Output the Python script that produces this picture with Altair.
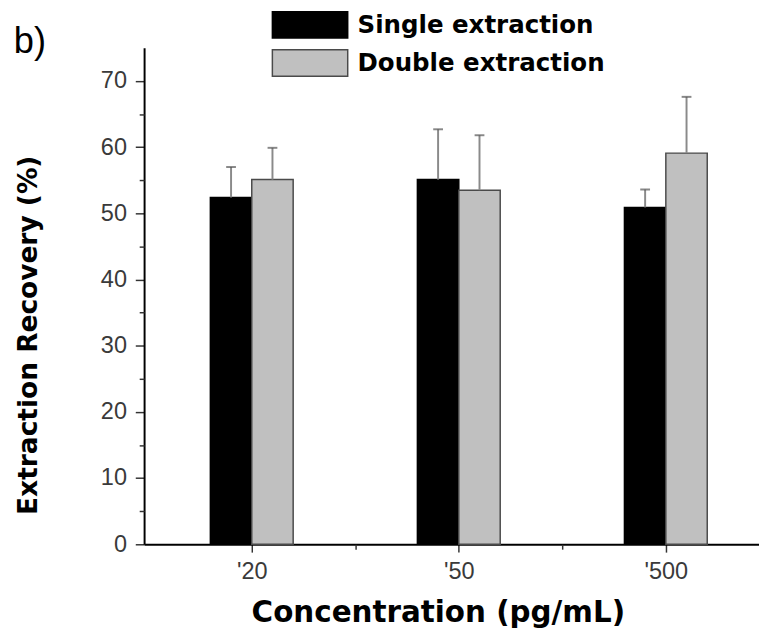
import json
import altair as alt
import pandas as pd

# ---- data ----
concentrations = ["'20", "'50", "'500"]
series_names = ["Single extraction", "Double extraction"]
single_values = [52.4, 55.1, 50.9]
single_errors = [4.6, 7.6, 2.7]
double_values = [55.1, 53.5, 59.1]
double_errors = [4.8, 8.3, 8.5]
y_major_ticks = [0, 10, 20, 30, 40, 50, 60, 70]
y_minor_ticks = [5, 15, 25, 35, 45, 55, 65]
x_minor_ticks = [1.5, 2.5]

rows = []
for i, c in enumerate(concentrations):
    rows.append({"idx": i + 1, "conc": c, "series": series_names[0],
                 "value": single_values[i], "err": single_errors[i], "side": -1})
    rows.append({"idx": i + 1, "conc": c, "series": series_names[1],
                 "value": double_values[i], "err": double_errors[i], "side": 0})
df = pd.DataFrame(rows)

BAR_W = 0.2
x_scale = alt.Scale(domain=[0.48, 3.45], nice=False, zero=False)
y_scale = alt.Scale(domain=[0, 75], nice=False)

label_font = "Liberation Sans"
title_font = "DejaVu Sans"

base = alt.Chart(df).transform_calculate(
    x0=f"datum.idx + datum.side * {BAR_W}",
    x1=f"datum.idx + datum.side * {BAR_W} + {BAR_W}",
    xc=f"datum.idx + datum.side * {BAR_W} + {BAR_W / 2}",
    top="datum.value + datum.err",
)

x_axis = alt.Axis(
    values=[1, 2, 3],
    labelExpr=f"{json.dumps(concentrations)}[datum.value - 1]",
    title="Concentration (pg/mL)",
    titleFont=title_font, titleFontSize=30, titleFontWeight="bold", titleColor="black",
    titleX=300, titleY=79, titleAlign="center", titleBaseline="alphabetic",
    labelFont=label_font, labelFontSize=24, labelColor="#3a3a3a", labelPadding=8,
    tickSize=8, tickWidth=1.5, tickColor="#333333",
    domainColor="black", domainWidth=2, grid=False, orient="bottom",
)
y_axis = alt.Axis(
    values=y_major_ticks,
    title="Extraction Recovery (%)",
    titleFont=title_font, titleFontSize=27, titleFontWeight="bold", titleColor="black",
    titleX=-118, titleY=293, titleAngle=270, titleAlign="center", titleBaseline="middle",
    labelFont=label_font, labelFontSize=24, labelColor="#3a3a3a", labelPadding=9,
    tickSize=9, tickWidth=1.5, tickColor="#333333",
    domainColor="black", domainWidth=2, grid=False, orient="left",
)

bars = base.mark_bar(strokeWidth=1.5).encode(
    x=alt.X("x0:Q", scale=x_scale, axis=x_axis),
    x2="x1:Q",
    y=alt.Y("value:Q", scale=y_scale, axis=y_axis),
    y2=alt.datum(0),
    color=alt.Color(
        "series:N",
        scale=alt.Scale(domain=series_names, range=["#000000", "#c0c0c0"]),
        sort=series_names,
        legend=alt.Legend(
            orient="none", legendX=130, legendY=-38, title=None, direction="vertical",
            symbolType="M-1,-1.0H4.7V1.0H-1Z", symbolSize=729,
            symbolStrokeWidth=1.5, symbolStrokeColor="#333333", symbolOpacity=1,
            labelOffset=59, labelFont=title_font, labelFontWeight="bold",
            labelFontSize=25, labelColor="black", labelLimit=400,
            rowPadding=6, padding=0,
        ),
    ),
    stroke=alt.Stroke(
        "series:N",
        scale=alt.Scale(domain=series_names, range=["#000000", "#4a4a4a"]),
        legend=None,
    ),
)

err_lines = base.mark_rule(color="#8a8a8a", strokeWidth=2).encode(
    x=alt.X("xc:Q", scale=x_scale, axis=None),
    y=alt.Y("value:Q", scale=y_scale, axis=None),
    y2="top:Q",
)

err_caps = base.mark_tick(orient="horizontal", size=10, thickness=2, color="#555555").encode(
    x=alt.X("xc:Q", scale=x_scale, axis=None),
    y=alt.Y("top:Q", scale=y_scale, axis=None),
)

minor = base.mark_point(opacity=0).encode(
    x=alt.X("xc:Q", scale=x_scale, axis=alt.Axis(
        values=x_minor_ticks, labels=False, domain=False, grid=False, title=None,
        tickSize=5, tickWidth=1.5, tickColor="#333333", orient="bottom")),
    y=alt.Y("value:Q", scale=y_scale, axis=alt.Axis(
        values=y_minor_ticks, labels=False, domain=False, grid=False, title=None,
        tickSize=5, tickWidth=1.5, tickColor="#333333", orient="left")),
)

chart = alt.layer(bars, err_lines, err_caps, minor).resolve_axis(
    x="independent", y="independent"
).properties(
    width=628,
    height=507,
    autosize=alt.AutoSizeParams(type="none"),
    padding={"left": 139, "top": 34, "right": 0, "bottom": 90},
    background="white",
    title=alt.TitleParams(
        text="b)", anchor="start", frame="group", orient="top",
        font=label_font, fontSize=37, fontWeight="normal", color="black",
        baseline="alphabetic", offset=0, dx=-133, dy=80,
    ),
).configure_view(stroke=None)

chart.save("out.html", embed_options={"renderer": "svg", "actions": False})
